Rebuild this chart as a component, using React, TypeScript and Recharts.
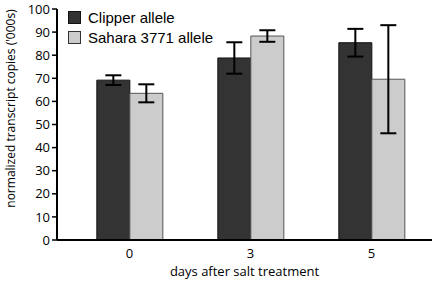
import { BarChart, Bar, XAxis, YAxis, ErrorBar, Label } from 'recharts';

const DAYS = ['0', '3', '5'];
const CLIPPER = [69.2, 78.8, 85.4];
const CLIPPER_ERR = [2.1, 6.8, 6.0];
const SAHARA = [63.5, 88.3, 69.6];
const SAHARA_ERR = [3.9, 2.5, 23.4];
const Y_TICKS = [0, 10, 20, 30, 40, 50, 60, 70, 80, 90, 100];

const data = DAYS.map((d, i) => ({
  day: d,
  clipper: CLIPPER[i],
  clipperErr: CLIPPER_ERR[i],
  sahara: SAHARA[i],
  saharaErr: SAHARA_ERR[i],
}));

const LEGEND = [
  { name: 'Clipper allele', fill: '#333333', stroke: '#111111' },
  { name: 'Sahara 3771 allele', fill: '#cccccc', stroke: '#333333' },
];

function LegendBox() {
  return (
    <div
      style={{
        position: 'absolute',
        left: 68,
        top: 7,
        fontFamily: 'Liberation Sans, Arial, sans-serif',
        fontSize: 15,
        color: '#000',
      }}
    >
      {LEGEND.map((l) => (
        <div key={l.name} style={{ display: 'flex', alignItems: 'center', height: 20 }}>
          <span
            style={{
              display: 'inline-block',
              width: 11,
              height: 11,
              background: l.fill,
              border: `1.5px solid ${l.stroke}`,
              marginRight: 7,
            }}
          />
          {l.name}
        </div>
      ))}
    </div>
  );
}

const tickFont = { fontFamily: 'Open Sans, sans-serif', fontSize: 13, fill: '#000' };

export default function App() {
  return (
    <div style={{ position: 'absolute', left: 0, top: 0, width: 434, height: 282, background: '#fff' }}>
      <BarChart
        width={434}
        height={282}
        data={data}
        margin={{ top: 9, right: 2, bottom: 22, left: 10 }}
        barCategoryGap="23%"
        barGap={0}
      >
        <XAxis
          dataKey="day"
          padding={{ left: 12, right: 0 }}
          axisLine={{ stroke: '#000', strokeWidth: 2 }}
          tickLine={false}
          tick={tickFont}
          tickMargin={3}
          height={20}
        >
          <Label
            value="days after salt treatment"
            position="bottom"
            offset={7}
            style={{ fontFamily: 'Open Sans, sans-serif', fontSize: 13, fill: '#000' }}
          />
        </XAxis>
        <YAxis
          width={47}
          domain={[0, 100]}
          ticks={Y_TICKS}
          interval={0}
          axisLine={{ stroke: '#000', strokeWidth: 2 }}
          tickLine={{ stroke: '#000', strokeWidth: 1.5 }}
          tickSize={5}
          tick={tickFont}
        >
          <Label
            value="normalized transcript copies ('000s)"
            angle={-90}
            position="insideLeft"
            offset={1}
            dy={-16}
            textAnchor="middle"
            style={{ fontFamily: 'Open Sans, sans-serif', fontSize: 12, fill: '#000', textAnchor: 'middle' }}
          />
        </YAxis>
        <Bar dataKey="clipper" fill="#333333" stroke="#111111" strokeWidth={1} isAnimationActive={false}>
          <ErrorBar dataKey="clipperErr" width={8} strokeWidth={2} stroke="#000" isAnimationActive={false} />
        </Bar>
        <Bar dataKey="sahara" fill="#cccccc" stroke="#555555" strokeWidth={1} isAnimationActive={false}>
          <ErrorBar dataKey="saharaErr" width={8} strokeWidth={2} stroke="#000" isAnimationActive={false} />
        </Bar>
      </BarChart>
      <LegendBox />
    </div>
  );
}
